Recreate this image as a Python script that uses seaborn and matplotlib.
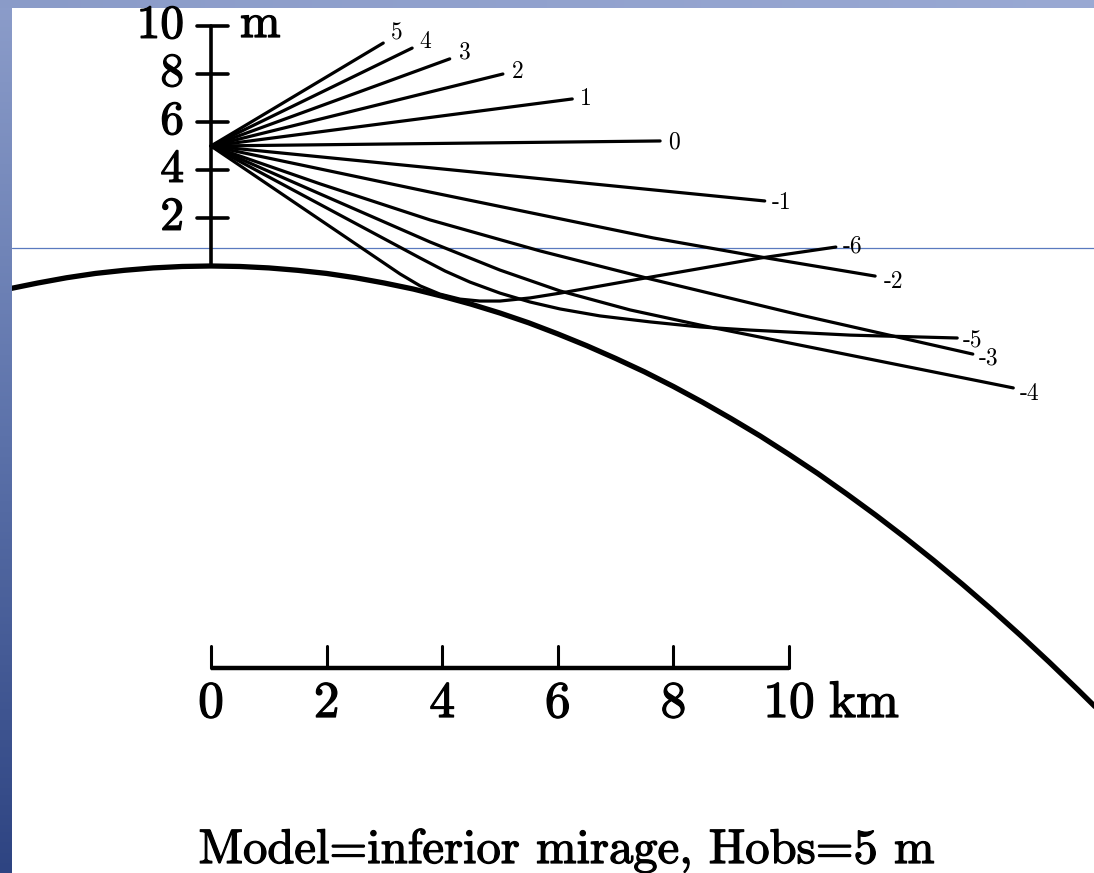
import numpy as np
import pandas as pd
import matplotlib
matplotlib.use("Agg")
import matplotlib.pyplot as plt
import matplotlib.patheffects as pe
from matplotlib.colors import LinearSegmentedColormap
import seaborn as sns

# ---------------- data ----------------
EARTH_KM = [-3.45, -3, -2.5, -2, -1.5, -1, -0.5, 0, 0.5, 1, 1.5, 2, 2.5, 3, 3.5, 4, 4.5,
            5, 5.5, 6, 6.5, 7, 7.5, 8, 8.5, 9, 9.5, 10, 10.5, 11, 11.5, 12, 12.5, 13,
            13.5, 14, 14.5, 15, 15.4]
EARTH_M = [-0.93, -0.71, -0.49, -0.31, -0.18, -0.08, -0.02, 0.0, -0.02, -0.08, -0.18,
           -0.31, -0.49, -0.71, -0.96, -1.26, -1.59, -1.96, -2.37, -2.83, -3.32, -3.85,
           -4.41, -5.02, -5.67, -6.36, -7.08, -7.85, -8.65, -9.50, -10.38, -11.30,
           -12.26, -13.26, -14.30, -15.38, -16.50, -17.66, -18.61]

RAY_LABELS = ['5', '4', '3', '2', '1', '0', '-1', '-2', '-3', '-4', '-5', '-6']
RAY_KM = [
    [0, 2.98], [0, 3.48], [0, 4.13], [0, 5.05], [0, 6.25], [0, 7.77], [0, 9.58],
    [0, 3.79, 7.65, 9.50, 11.49],
    [0, 1.89, 3.79, 5.69, 7.60, 10.19, 13.18],
    [0, 1.89, 3.79, 5.00, 6.04, 7.25, 8.46, 13.88],
    [0, 3.62, 4.05, 4.48, 5.00, 5.52, 6.04, 6.73, 7.60, 8.46, 9.33, 11.06, 12.91],
    [0, 3.27, 3.62, 3.96, 4.31, 4.65, 5.00, 5.52, 6.04, 7.42, 9.50, 10.81],
]
RAY_M = [
    [5, 9.29], [5, 9.08], [5, 8.63], [5, 8.0], [5, 6.96], [5, 5.21], [5, 2.71],
    [5, 3.08, 1.17, 0.38, -0.42],
    [5, 3.42, 1.92, 0.63, -0.54, -2.04, -3.67],
    [5, 3.0, 1.0, -0.17, -1.04, -1.83, -2.46, -5.08],
    [5, 0.33, -0.21, -0.67, -1.13, -1.50, -1.79, -2.08, -2.33, -2.54, -2.67, -2.88, -3.0],
    [5, -0.33, -0.83, -1.17, -1.38, -1.46, -1.46, -1.33, -1.13, -0.54, 0.33, 0.79],
]

HEIGHT_TICKS = [2, 4, 6, 8, 10]
HEIGHT_LABELS = ['2', '4', '6', '8', '10']
DIST_TICKS = [0, 2, 4, 6, 8, 10]
DIST_LABELS = ['0', '2', '4', '6', '8', '10']
TITLE = "Model=inferior mirage, Hobs=5 m"

# ---------------- style / layout ----------------
W, H = 1094, 873
PX_PER_KM = 57.8
PX_PER_M = 24.0
X0_PX, Y0_PX = 211, 266
LABEL_OFFSETS = [(8, 10), (7, 6), (9, 6), (9, 2), (8, 0), (8, -1),
                 (7, -2), (9, -6), (6, -4), (6, -6), (6, -3), (7, 1)]
HEAVY = [pe.withStroke(linewidth=0.9, foreground='black')]

sns.set_theme(style="white")
plt.rcParams['font.family'] = ['cmr10', 'DejaVu Serif']
plt.rcParams['axes.unicode_minus'] = False

fig = plt.figure(figsize=(W / 100, H / 100), dpi=100)
fig.patch.set_facecolor('white')

# background decoration (slide frame)
left_cmap = LinearSegmentedColormap.from_list('l', ['#8c9dca', '#5c72aa', '#2e4482'])
axl = fig.add_axes([0, 0, 12 / W, 1], zorder=0)
axl.imshow(np.linspace(0, 1, 256)[:, None], aspect='auto', cmap=left_cmap)
axl.axis('off')
top_cmap = LinearSegmentedColormap.from_list('t', ['#8a9bc8', '#9aa9d3'])
axt = fig.add_axes([0, 1 - 8 / H, 1, 8 / H], zorder=0)
axt.imshow(np.linspace(0, 1, 256)[None, :], aspect='auto', cmap=top_cmap)
axt.axis('off')

ax = fig.add_axes([12 / W, 0, 1 - 12 / W, 1 - 8 / H], zorder=1)
ax.set_xlim((12 - X0_PX) / PX_PER_KM, (W - X0_PX) / PX_PER_KM)
ax.set_ylim((Y0_PX - H) / PX_PER_M, (Y0_PX - 8) / PX_PER_M)
ax.axis('off')

# thin blue guide line
ax.axhline((Y0_PX - 248) / PX_PER_M, color='#5a7abf', lw=0.9, zorder=0)

# earth surface
sns.lineplot(x=EARTH_KM, y=EARTH_M, color='black', linewidth=3.8, estimator=None,
             sort=False, ax=ax, zorder=3)

# rays
rows = []
for lab, xs, ys in zip(RAY_LABELS, RAY_KM, RAY_M):
    for xv, yv in zip(xs, ys):
        rows.append({'ray': lab, 'km': xv, 'm': yv})
df = pd.DataFrame(rows)
sns.lineplot(data=df, x='km', y='m', units='ray', estimator=None, sort=False,
             color='black', linewidth=2.3, legend=False, ax=ax, zorder=4)

for lab, xs, ys, off in zip(RAY_LABELS, RAY_KM, RAY_M, LABEL_OFFSETS):
    ax.annotate(lab, (xs[-1], ys[-1]), xytext=off, textcoords='offset pixels',
                ha='left', va='center', fontsize=17, color='black')

# vertical height scale
ax.plot([0, 0], [0, max(HEIGHT_TICKS)], color='black', lw=2.6, zorder=5)
for t, lab in zip(HEIGHT_TICKS, HEIGHT_LABELS):
    ax.plot([-14 / PX_PER_KM, 17 / PX_PER_KM], [t, t], color='black', lw=2.6, zorder=5)
    ax.text(-27 / PX_PER_KM, t, lab, ha='right', va='center', fontsize=34,
            color='black', path_effects=HEAVY)
ax.text(29 / PX_PER_KM, max(HEIGHT_TICKS) - 11 / PX_PER_M, 'm', ha='left',
        va='baseline', fontsize=35, color='black', path_effects=HEAVY)

# horizontal distance scale
bar_y = (Y0_PX - 668) / PX_PER_M
tick_top = (Y0_PX - 646) / PX_PER_M
ax.plot([min(DIST_TICKS), max(DIST_TICKS)], [bar_y, bar_y], color='black', lw=3.2,
        solid_capstyle='butt', zorder=5)
for t, lab in zip(DIST_TICKS, DIST_LABELS):
    ax.plot([t, t], [bar_y, tick_top], color='black', lw=2.2, zorder=5)
    ax.text(t, (Y0_PX - 717) / PX_PER_M, lab, ha='center', va='baseline',
            fontsize=37, color='black', path_effects=HEAVY)
ax.text(max(DIST_TICKS) + 40 / PX_PER_KM, (Y0_PX - 717) / PX_PER_M, 'km',
        ha='left', va='baseline', fontsize=37, color='black', path_effects=HEAVY)

# caption
ax.text((567 - X0_PX) / PX_PER_KM, (Y0_PX - 863) / PX_PER_M, TITLE, ha='center',
        va='baseline', fontsize=35, color='black', path_effects=HEAVY)

fig.savefig('out.png', dpi=100)
